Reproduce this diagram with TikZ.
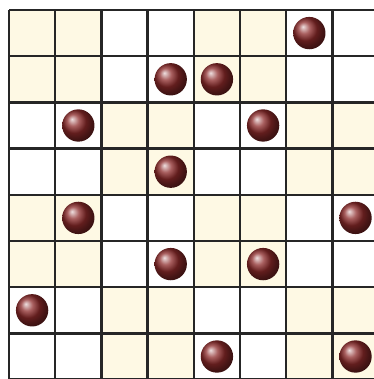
\documentclass[tikz,border=0pt]{standalone}
\definecolor{cream}{RGB}{254,249,228}
\definecolor{ballred}{RGB}{140,42,42}
\begin{document}
\begin{tikzpicture}
\clip (-0.195,-7.987) rectangle (7.90,0.216);
\fill[white] (-0.195,-7.987) rectangle (7.90,0.216);
\foreach \i/\j in {0/0,0/2,1/1,1/3,2/0,2/2,3/1,3/3}
  \fill[cream] (2*\j,-2*\i) rectangle ++(2,-2);
\draw[line width=1.4pt, black!85] (0,0) grid (8,-8);
\foreach \r/\c in {0/6,1/3,1/4,2/1,2/5,3/3,4/1,4/7,5/3,5/5,6/0,7/4,7/7}
  \shade[ball color=ballred] (\c+0.5,-\r-0.5) circle (0.35);
\end{tikzpicture}
\end{document}
